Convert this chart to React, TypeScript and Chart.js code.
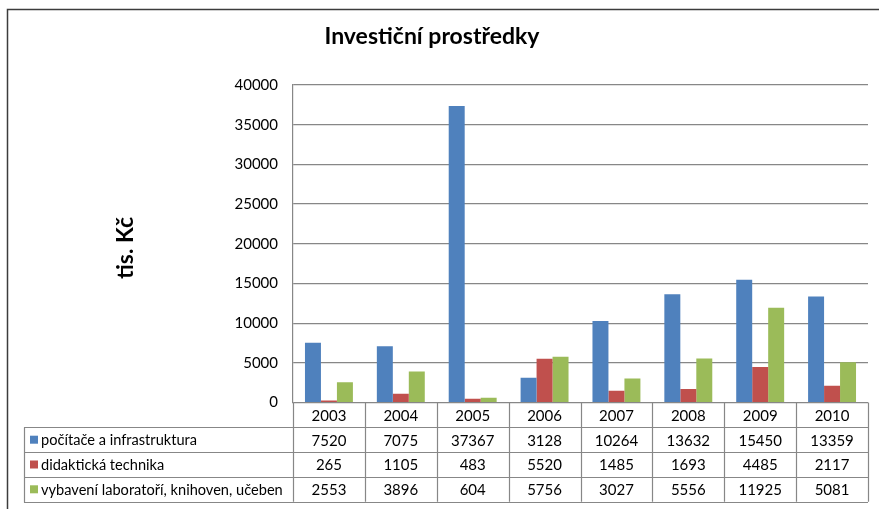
import React, { useEffect, useRef } from 'react';
import { Chart, registerables } from 'chart.js';

Chart.register(...registerables);

const categories = ['2003', '2004', '2005', '2006', '2007', '2008', '2009', '2010'];
const pocitace = [7520, 7075, 37367, 3128, 10264, 13632, 15450, 13359];
const didakticka = [265, 1105, 483, 5520, 1485, 1693, 4485, 2117];
const vybaveni = [2553, 3896, 604, 5756, 3027, 5556, 11925, 5081];
const seriesNames = ['počítače a infrastruktura', 'didaktická technika', 'vybavení laboratoří, knihoven, učeben'];
const seriesColors = ['#4F81BD', '#C0504D', '#9BBB59'];
const yMin = 0;
const yMax = 40000;
const yStep = 5000;
const titleText = 'Investiční prostředky';
const yTitleText = 'tis. Kč';

const FONT = 'Lato, "Noto Sans", sans-serif';
const GRID = '#878787';

export default function App() {
  const ref = useRef<HTMLCanvasElement>(null);

  useEffect(() => {
    const tablePlugin = {
      id: 'excelTable',
      beforeDraw(chart: any) {
        const ctx = chart.ctx;
        ctx.save();
        ctx.fillStyle = '#ffffff';
        ctx.fillRect(0, 0, chart.width, chart.height);
        ctx.restore();
      },
      afterDraw(chart: any) {
        const ctx = chart.ctx;
        const area = chart.chartArea;
        const x = chart.scales.x;
        const n = categories.length;
        const colW = (area.right - area.left) / n;
        const top = area.bottom;
        const rowH = 24.8;
        const rows = [top, top + rowH, top + 2 * rowH, top + 3 * rowH, top + 4 * rowH];
        const tableLeft = 24;
        ctx.save();
        // frame
        ctx.strokeStyle = '#3c3c3c';
        ctx.lineWidth = 1.5;
        ctx.beginPath();
        ctx.moveTo(7.5, chart.height);
        ctx.lineTo(7.5, 9.5);
        ctx.lineTo(chart.width, 9.5);
        ctx.stroke();

        // table lines
        ctx.strokeStyle = GRID;
        ctx.lineWidth = 1.2;
        ctx.beginPath();
        for (let i = 0; i <= n; i++) {
          const px = Math.round(area.left + i * colW) + 0.5;
          ctx.moveTo(px, top);
          ctx.lineTo(px, rows[4]);
        }
        for (let r = 1; r <= 4; r++) {
          const py = Math.round(rows[r]) + 0.5;
          ctx.moveTo(tableLeft, py);
          ctx.lineTo(area.right, py);
        }
        ctx.moveTo(tableLeft + 0.5, Math.round(rows[1]) + 0.5);
        ctx.lineTo(tableLeft + 0.5, Math.round(rows[4]) + 0.5);
        ctx.stroke();

        // text
        ctx.fillStyle = '#000';
        ctx.textBaseline = 'middle';
        ctx.font = '15px ' + FONT;
        ctx.textAlign = 'center';
        categories.forEach((c, i) => {
          const cx = x.getPixelForValue(i);
          ctx.fillText(c, cx, (rows[0] + rows[1]) / 2 + 1);
        });
        const allData = [pocitace, didakticka, vybaveni];
        allData.forEach((arr, r) => {
          const cy = (rows[r + 1] + rows[r + 2]) / 2 + 1;
          ctx.font = '15px ' + FONT;
          arr.forEach((v, i) => {
            ctx.textAlign = 'center';
            ctx.fillText(String(v), x.getPixelForValue(i), cy);
          });
          ctx.fillStyle = seriesColors[r];
          ctx.fillRect(30, cy - 5, 8, 8);
          ctx.fillStyle = '#000';
          ctx.textAlign = 'left';
          ctx.font = '14.6px ' + FONT;
          ctx.fillText(seriesNames[r], 41, cy);
        });

        // title
        ctx.textAlign = 'center';
        ctx.font = 'bold 23px ' + FONT;
        ctx.fillText(titleText, 432, 37);

        // y title
        ctx.translate(126, 248);
        ctx.rotate(-Math.PI / 2);
        ctx.font = 'bold 23px ' + FONT;
        ctx.fillText(yTitleText, 0, 0);
        ctx.restore();
      },
    };

    const chart = new Chart(ref.current as HTMLCanvasElement, {
      type: 'bar',
      data: {
        labels: categories,
        datasets: [
          { label: seriesNames[0], data: pocitace, backgroundColor: seriesColors[0] },
          { label: seriesNames[1], data: didakticka, backgroundColor: seriesColors[1] },
          { label: seriesNames[2], data: vybaveni, backgroundColor: seriesColors[2] },
        ],
      },
      options: {
        responsive: false,
        animation: false,
        devicePixelRatio: 1,
        layout: { padding: { left: 0, right: 11, top: 85, bottom: 106.5 } },
        datasets: { bar: { categoryPercentage: 0.667, barPercentage: 1, borderWidth: 0 } },
        plugins: { legend: { display: false }, title: { display: false }, tooltip: { enabled: false } },
        scales: {
          x: { display: false },
          y: {
            min: yMin,
            max: yMax,
            ticks: {
              stepSize: yStep,
              padding: 15,
              color: '#000',
              font: { family: FONT, size: 15 },
              callback: (v: any) => String(v),
            },
            grid: { color: GRID, lineWidth: 1.2, drawTicks: false },
            border: { display: true, color: GRID, width: 1.2 },
            afterFit(scale: any) {
              scale.width = 293;
            },
          },
        },
      },
      plugins: [tablePlugin],
    } as any);
    return () => chart.destroy();
  }, []);

  return (
    <div style={{ position: 'fixed', left: 0, top: 0, width: 879, height: 509, background: '#fff' }}>
      <canvas ref={ref} width={879} height={509} style={{ display: 'block', width: 879, height: 509 }} />
    </div>
  );
}
